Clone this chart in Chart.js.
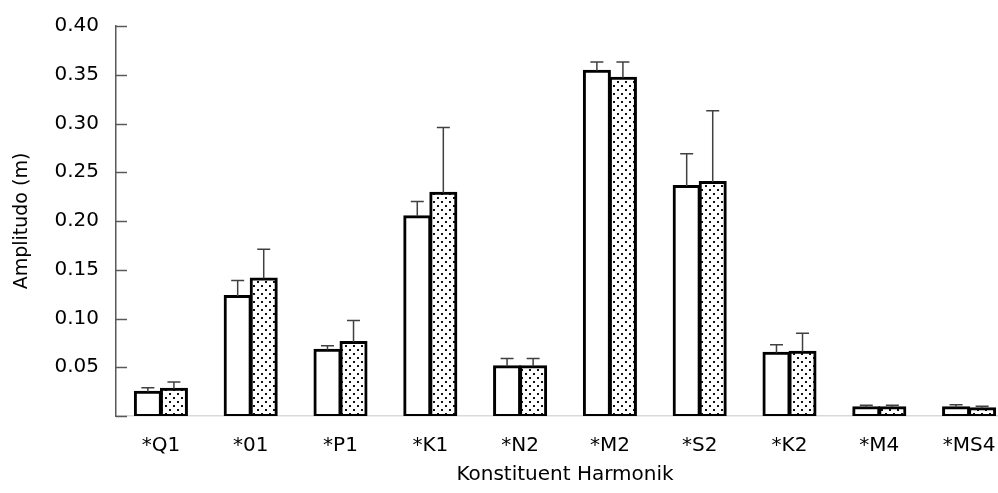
<!DOCTYPE html>
<html>
<head>
<meta charset="utf-8">
<script src="https://cdn.jsdelivr.net/npm/chart.js@4"></script>
<style>
  html, body { margin: 0; padding: 0; background: #fff; overflow: hidden; }
  #wrap { position: absolute; left: 0; top: 0; width: 1014px; height: 493px; }
</style>
</head>
<body>
<div id="wrap"><canvas id="chart"></canvas></div>
<script>
const categories = ['*Q1', '*01', '*P1', '*K1', '*N2', '*M2', '*S2', '*K2', '*M4', '*MS4'];
const seriesA = [0.025, 0.123, 0.068, 0.205, 0.051, 0.354, 0.236, 0.065, 0.009, 0.009];
const errorsA = [0.004, 0.016, 0.004, 0.015, 0.008, 0.009, 0.033, 0.008, 0.002, 0.0026];
const seriesB = [0.028, 0.141, 0.076, 0.229, 0.051, 0.347, 0.240, 0.066, 0.009, 0.008];
const errorsB = [0.007, 0.030, 0.022, 0.067, 0.008, 0.016, 0.073, 0.019, 0.002, 0.002];
const yTicks = [0, 0.05, 0.10, 0.15, 0.20, 0.25, 0.30, 0.35, 0.40];

// stippled fill for the second series
function dotPattern() {
  const c = document.createElement('canvas');
  c.width = 8; c.height = 8;
  const g = c.getContext('2d');
  g.fillStyle = '#fff';
  g.fillRect(0, 0, 8, 8);
  g.fillStyle = '#111';
  g.fillRect(1, 1, 2, 2);
  g.fillRect(5, 5, 2, 2);
  return g.createPattern(c, 'repeat');
}

const errorBars = {
  id: 'errorBars',
  afterDatasetsDraw(chart) {
    const ctx = chart.ctx;
    const y = chart.scales.y;
    ctx.save();
    ctx.strokeStyle = '#404040';
    ctx.lineWidth = 1.5;
    chart.data.datasets.forEach((ds, di) => {
      const meta = chart.getDatasetMeta(di);
      meta.data.forEach((bar, i) => {
        const top = y.getPixelForValue(ds.data[i] + ds.errors[i]);
        ctx.beginPath();
        ctx.moveTo(bar.x, bar.y);
        ctx.lineTo(bar.x, top);
        ctx.moveTo(bar.x - 6.5, top);
        ctx.lineTo(bar.x + 6.5, top);
        ctx.stroke();
      });
    });
    ctx.restore();
  }
};

// short tick marks drawn on the inside of the y axis
const innerTicks = {
  id: 'innerTicks',
  afterDraw(chart) {
    const ctx = chart.ctx;
    const y = chart.scales.y;
    ctx.save();
    ctx.strokeStyle = '#595959';
    ctx.lineWidth = 1.5;
    y.ticks.forEach(t => {
      const py = Math.round(y.getPixelForValue(t.value)) + 0.5;
      ctx.beginPath();
      ctx.moveTo(y.right, py);
      ctx.lineTo(y.right + 11, py);
      ctx.stroke();
    });
    ctx.restore();
  }
};

const ctx = document.getElementById('chart').getContext('2d');
new Chart(ctx, {
  type: 'bar',
  data: {
    labels: categories,
    datasets: [{
      data: seriesA,
      errors: errorsA,
      backgroundColor: '#fff',
      borderColor: '#000',
      borderWidth: 3,
      borderSkipped: false,
      inflateAmount: 1
    }, {
      data: seriesB,
      errors: errorsB,
      backgroundColor: dotPattern(),
      borderColor: '#000',
      borderWidth: 3,
      borderSkipped: false,
      inflateAmount: 1
    }]
  },
  options: {
    responsive: true,
    maintainAspectRatio: false,
    animation: false,
    layout: { padding: { top: 26, left: 0, right: 0, bottom: 0 } },
    categoryPercentage: 0.58,
    barPercentage: 1.0,
    plugins: { legend: { display: false }, tooltip: { enabled: false } },
    scales: {
      x: {
        grid: { display: false, drawTicks: false },
        border: { display: true, color: '#d9d9d9', width: 1.5 },
        ticks: { color: '#000', padding: 18, font: { family: 'DejaVu Sans', size: 20 } },
        title: {
          display: true, text: 'Konstituent Harmonik', color: '#000',
          font: { family: 'DejaVu Sans', size: 20 }, padding: { top: 0, bottom: 6 }
        },
        afterFit(scale) { scale.height = 77; }
      },
      y: {
        min: 0, max: 0.4,
        afterBuildTicks(scale) { scale.ticks = yTicks.map(v => ({ value: v })); },
        grid: { display: false, drawTicks: false },
        border: { display: true, color: '#595959', width: 1.5 },
        ticks: {
          color: '#000', padding: 17,
          font: { family: 'DejaVu Sans', size: 20 },
          callback: v => v === 0 ? '' : v.toFixed(2)
        },
        title: {
          display: true, text: 'Amplitudo (m)', color: '#000',
          font: { family: 'DejaVu Sans', size: 19 }, padding: { top: 11, bottom: 0 }
        },
        afterFit(scale) {
          scale.width = 116;
          scale.paddingTop = 0;
          scale.paddingBottom = 0;
        }
      }
    }
  },
  plugins: [errorBars, innerTicks]
});
</script>
</body>
</html>
